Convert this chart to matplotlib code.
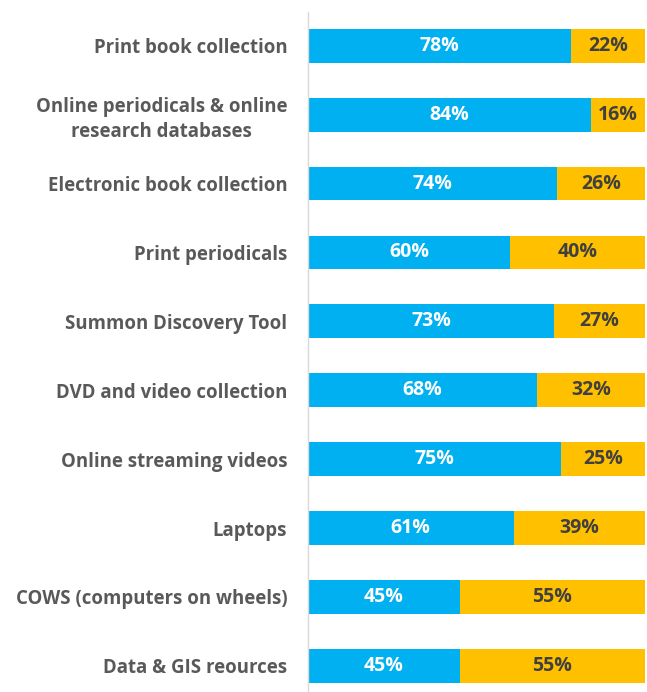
import matplotlib
matplotlib.use("Agg")
import matplotlib.pyplot as plt

plt.rcParams['font.family'] = ['Open Sans', 'DejaVu Sans']

categories = ['Print book collection',
              'Online periodicals & online\nresearch databases',
              'Electronic book collection',
              'Print periodicals',
              'Summon Discovery Tool',
              'DVD and video collection',
              'Online streaming videos',
              'Laptops',
              'COWS (computers on wheels)',
              'Data & GIS reources']
yes_vals = [78, 84, 74, 60, 73, 68, 75, 61, 45, 45]
no_vals = [22, 16, 26, 40, 27, 32, 25, 39, 55, 55]

blue = '#00B0F0'
orange = '#FFC000'

fig = plt.figure(figsize=(6.47, 6.92), dpi=100)
ax = fig.add_axes([308/647, 0.0, 337/647, 1 - 12/692])

y = list(range(len(categories)))
h = 0.49
ax.barh(y, yes_vals, height=h, color=blue)
ax.barh(y, no_vals, left=yes_vals, height=h, color=orange)

for i in y:
    ax.text(yes_vals[i] / 2, i, f'{yes_vals[i]}%', ha='center', va='center',
            color='white', fontsize=14, fontweight='bold')
    ax.text(yes_vals[i] + no_vals[i] / 2, i, f'{no_vals[i]}%', ha='center', va='center',
            color='#404040', fontsize=14, fontweight='bold')

ax.set_xlim(0, 100)
ax.set_ylim(9.38, -0.49)
ax.set_yticks(y)
ax.set_yticklabels(categories, fontsize=13.4, fontweight='bold', color='#595959',
                   ha='right', multialignment='center', linespacing=1.35)
ax.tick_params(axis='y', length=0, pad=15)
ax.set_xticks([])
for s in ['top', 'right', 'bottom']:
    ax.spines[s].set_visible(False)
ax.spines['left'].set_color('#D9D9D9')
ax.spines['left'].set_linewidth(1)

fig.savefig('out.png', dpi=100)
